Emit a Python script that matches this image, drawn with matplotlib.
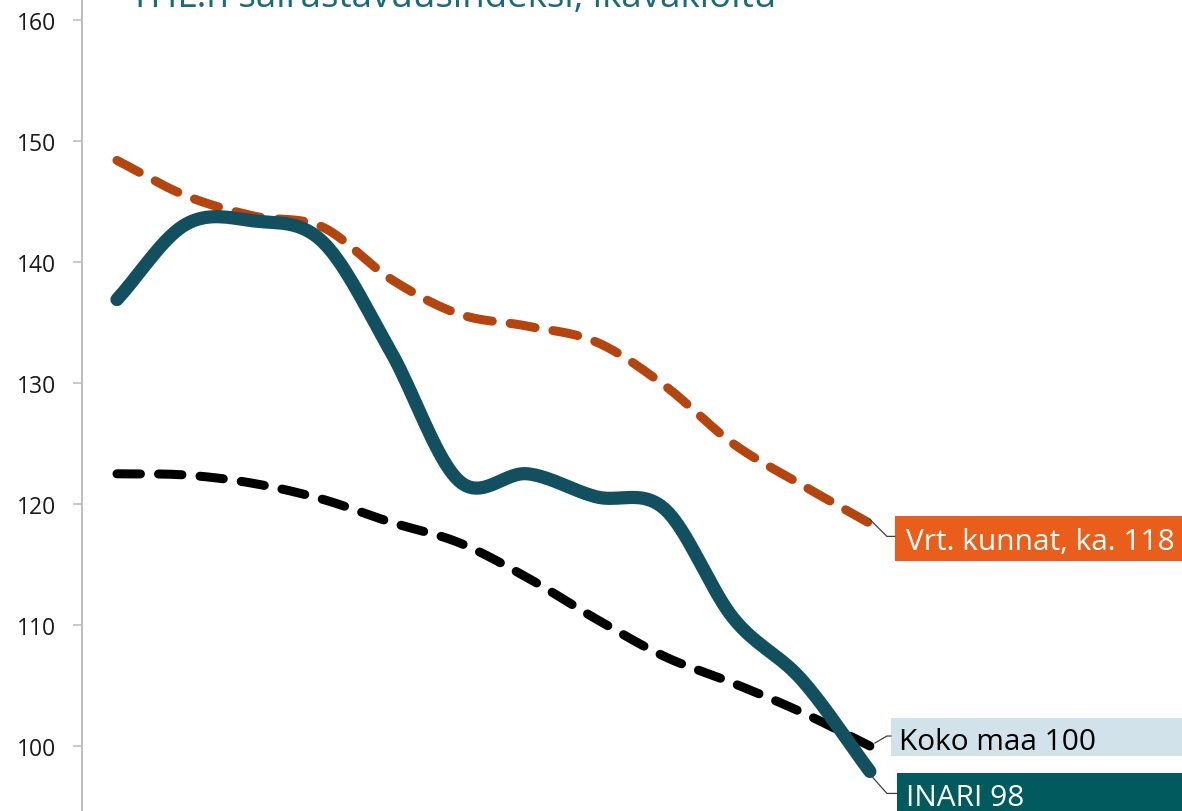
import numpy as np
import matplotlib.pyplot as plt
from matplotlib.patches import Rectangle
from matplotlib.lines import Line2D
from matplotlib.transforms import IdentityTransform

plt.rcParams['font.family'] = ['Open Sans', 'DejaVu Sans']

# THL:n sairastavuusindeksi, ikävakioitu (12 vuotta)
years = np.arange(12)
inari = [136.9, 143.1, 143.4, 141.7, 132.6, 121.9, 122.5, 120.6, 119.6, 110.6, 105.5, 97.9]
vrt_kunnat = [148.4, 145.5, 143.8, 142.9, 138.6, 135.7, 134.7, 133.4, 129.8, 125.0, 121.6, 118.4]
koko_maa = [122.5, 122.4, 121.7, 120.4, 118.5, 116.8, 113.9, 110.5, 107.4, 105.2, 102.8, 100.0]

labels = ['Vrt. kunnat, ka. 118', 'Koko maa 100', 'INARI 98']
title = 'THL:n sairastavuusindeksi, ikävakioitu'

c_inari = '#12505f'
c_vrt = '#b5450f'
c_koko = '#000000'


def smooth(x, y, n=20):
    # Excel-tyylinen pehmennetty viiva (Catmull-Rom)
    x = np.asarray(x, float)
    y = np.asarray(y, float)
    px = np.concatenate([[2 * x[0] - x[1]], x, [2 * x[-1] - x[-2]]])
    py = np.concatenate([[2 * y[0] - y[1]], y, [2 * y[-1] - y[-2]]])
    xs, ys = [], []
    t = np.linspace(0, 1, n, endpoint=False)
    for i in range(1, len(px) - 2):
        for p, out in ((px, xs), (py, ys)):
            p0, p1, p2, p3 = p[i - 1], p[i], p[i + 1], p[i + 2]
            out.extend(0.5 * (2 * p1 + (-p0 + p2) * t
                              + (2 * p0 - 5 * p1 + 4 * p2 - p3) * t ** 2
                              + (-p0 + 3 * p1 - 3 * p2 + p3) * t ** 3))
    xs.append(x[-1])
    ys.append(y[-1])
    return np.array(xs), np.array(ys)


fig = plt.figure(figsize=(11.82, 8.12), dpi=100)
ax = fig.add_axes([82 / 1182, 0, 1100 / 1182, 1])

sx, sy = smooth(years, koko_maa)
ax.plot(sx, sy, color=c_koko, lw=6.5, dashes=(2.6, 2.0), dash_capstyle='round', zorder=2)
sx, sy = smooth(years, vrt_kunnat)
ax.plot(sx, sy, color=c_vrt, lw=6.5, dashes=(2.8, 2.0), dash_capstyle='round', zorder=3)
sx, sy = smooth(years, inari)
ax.plot(sx, sy, color=c_inari, lw=9.5, solid_capstyle='round', zorder=4)

ax.set_xlim(-0.511, 15.56)
ax.set_ylim(94.63, 161.74)
ax.set_yticks(range(100, 161, 10))
ax.set_xticks([])
for s in ['top', 'right', 'bottom']:
    ax.spines[s].set_visible(False)
ax.spines['left'].set_color('#bfbfbf')
ax.spines['left'].set_linewidth(1.5)
ax.tick_params(axis='y', length=6.5, width=1.2, color='#bfbfbf', labelsize=16.5,
               labelcolor='#1a1a1a', pad=12)

# nimilaatikot viivojen päissä (siirrot pikseleinä viivan päästä, y alaspäin)
# (tekstin x, perusviiva, laatikon x, laatikon ylä, laatikon ala, yhdysviiva)
boxes = [
    (vrt_kunnat[-1], '#e95e1b', 'white', 36, 26, 25, -7, 38, [(0, -4), (17, 13), (25, 13)]),
    (koko_maa[-1], '#d2e2ea', 'black', 29, 3, 21, -28, 10, [(5, -3), (17, -10), (21, -10)]),
    (inari[-1], '#005a5e', 'white', 36, 34, 27, 2, 50, [(2, 5), (17, 22), (27, 22)]),
]
W = fig.bbox.width
for lab, (yv, bg, fg, tx, base, bx, btop, bbot, conn) in zip(labels, boxes):
    ex, ey = ax.transData.transform((years[-1], yv))
    fig.add_artist(Rectangle((ex + bx, ey - bbot), W - ex - bx, bbot - btop,
                             transform=IdentityTransform(), fc=bg, ec='none', zorder=5))
    fig.add_artist(Line2D([ex + dx for dx, dy in conn], [ey - dy for dx, dy in conn],
                          transform=IdentityTransform(), color='#404040', lw=0.9, zorder=5))
    fig.text(ex + tx, ey - base, lab, transform=IdentityTransform(), fontsize=21.5,
             color=fg, ha='left', va='baseline', zorder=6)

fig.text(130 / 1182, 1 - 7 / 812, title, fontsize=26.5, color='#1b6a7a',
         ha='left', va='baseline')

fig.savefig('out.png', dpi=100)
